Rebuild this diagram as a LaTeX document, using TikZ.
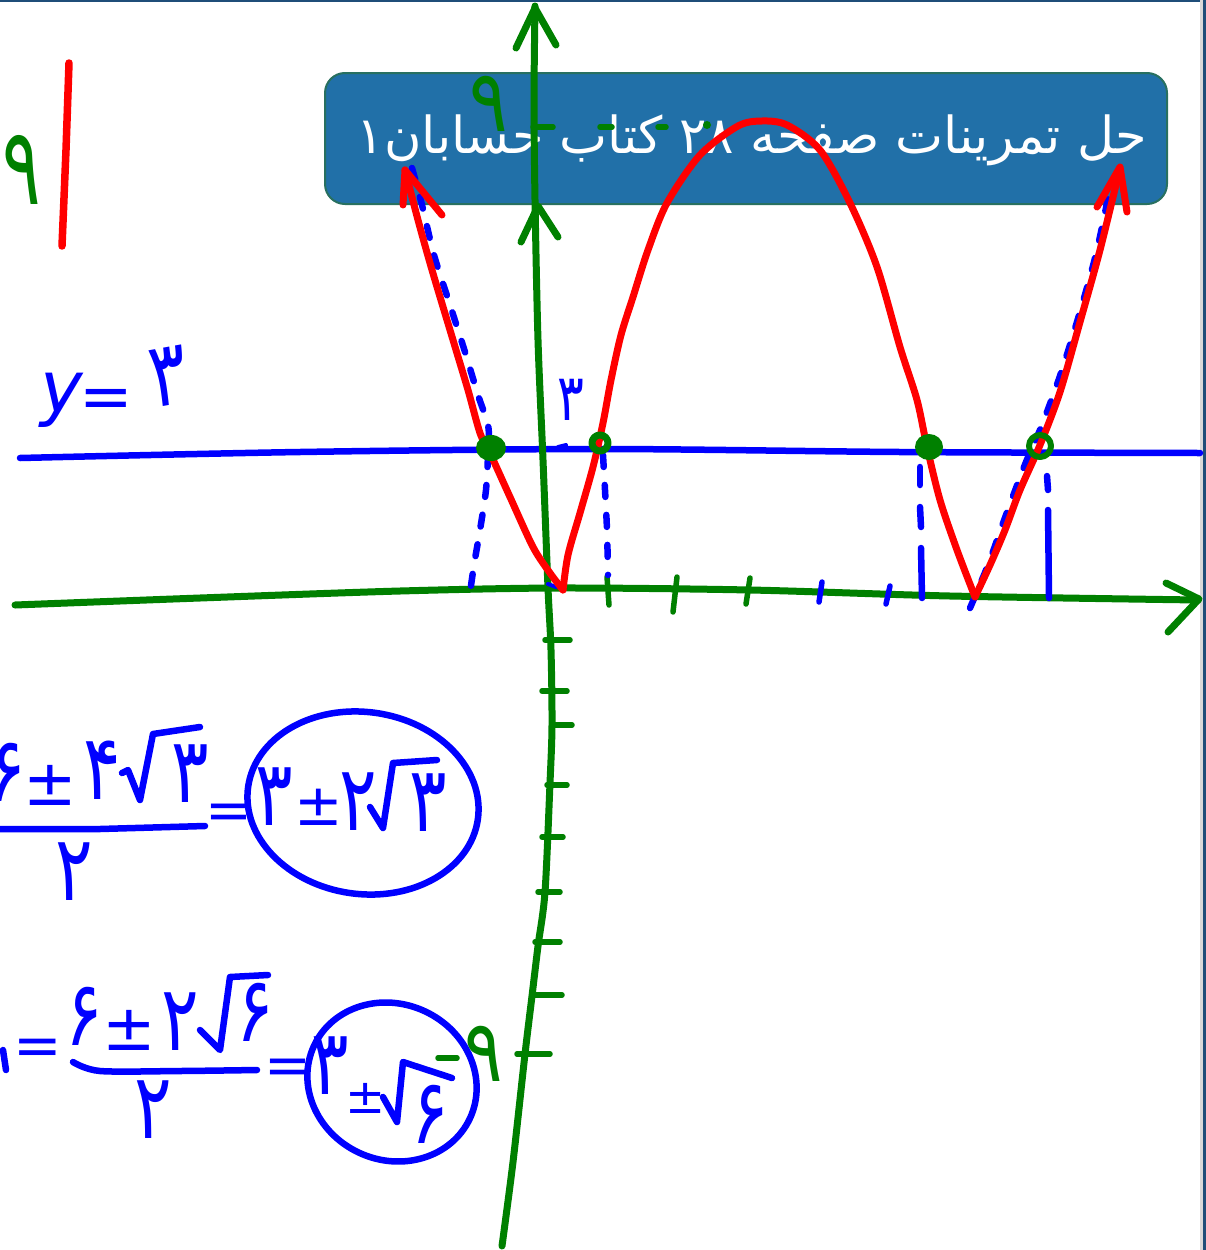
\documentclass[tikz,border=0pt]{standalone}
\usepackage{fontspec}
\newfontfamily\fa[Script=Arabic]{DejaVu Sans}
\newfontfamily\fd{DejaVu Sans}
\TeXXeTstate=1
\definecolor{penred}{RGB}{255,0,0}
\definecolor{pengreen}{RGB}{0,128,0}
\definecolor{penblue}{RGB}{0,0,255}
\definecolor{boxfill}{RGB}{33,112,168}
\definecolor{boxline}{RGB}{40,112,96}
\definecolor{frame}{RGB}{31,78,121}
\begin{document}
\begin{tikzpicture}[x=1pt,y=-1pt,
  redc/.style={draw=penred,line width=7pt,line cap=round,line join=round},
  grn/.style={draw=pengreen,line width=7pt,line cap=round,line join=round},
  blu/.style={draw=penblue,line width=6.5pt,line cap=round,line join=round},
  bdash/.style={blu,dash pattern=on 12pt off 18pt},
  btxt/.style={text=penblue,inner sep=0pt,yscale=1.3,font=\fd\fontsize{70}{70}\selectfont},
  bsym/.style={text=penblue,inner sep=0pt,font=\fd\fontsize{64}{64}\selectfont},
  gtxt/.style={text=pengreen,inner sep=0pt,yscale=1.5,font=\fd\fontsize{72}{72}\selectfont},
  dotf/.style={fill=pengreen,draw=pengreen,line width=2pt}]
\useasboundingbox (0,0) rectangle (1206,1250);
\clip (0,0) rectangle (1206,1250);
\fill[white] (0,0) rectangle (1206,1250);
% frame
\fill[frame] (0,0) rectangle (1206,2);
\fill[black!15] (1200,0) rectangle (1203,1250);
\fill[frame] (1203,0) rectangle (1206,1250);
% title box
\draw[boxline,fill=boxfill,line width=2pt,rounded corners=20pt] (325,73) rectangle (1167,204);
\node[text=white,inner sep=0pt,font=\fa\fontsize{51}{51}\selectfont] (title) at (752,140)
  {\beginR حل تمرینات صفحه \beginL ۲۸\endL{} کتاب حسابان۱\endR};
% red mark top left
\draw[redc,line width=7.5pt] (69,63) -- (66,150) -- (62,246);
\node[gtxt] (nine1) at (22,170) {۹};
% blue y=3 line
\draw[blu] plot[smooth,tension=0.5] coordinates {(20,458) (300,452) (600,449) (900,452) (1200,453)};
\node[bsym,font=\fd\itshape\fontsize{72}{72}\selectfont] (ylab) at (62,400) {y};
\node[bsym] (yeq) at (106,404) {=};
\node[btxt,rotate=8] (ythree) at (168,376) {۳};
\node[btxt,font=\fd\fontsize{50}{50}\selectfont] (three2) at (571,400) {۳};
% x axis
\draw[grn] plot[smooth,tension=0.5] coordinates {(15,605) (200,598) (400,591) (560,588) (750,590) (950,596) (1198,600)};
\draw[grn] (1166,583) -- (1199,599) -- (1168,632);
% x ticks
\draw[grn,line width=5.5pt] (607,577) -- (609,605);
\draw[grn,line width=5.5pt] (677,577) -- (673,612);
\draw[grn,line width=5.5pt] (750,578) -- (746,604);
\draw[blu,line width=5.5pt] (822,582) -- (819,602);
\draw[blu,line width=5.5pt] (890,586) -- (886,604);
% y axis
\draw[grn] plot[smooth,tension=0.5] coordinates {(535,6) (534,100) (535,200) (538,340) (543,460) (548,588) (551,650) (552,725) (550,783) (545,892) (538,946) (532,996) (525,1054) (513,1162) (502,1246)};
\draw[grn] (516,48) -- (535,8) -- (556,45);
\draw[grn] (521,242) -- (538,206) -- (558,237);
\draw[grn,line width=5.5pt] (533,127) -- (553,127);
\node[gtxt,yscale=0.8] (nine2) at (489,104) {۹};
\draw[grn,line width=5.5pt] (600,127) -- (612,127);
\draw[grn,line width=5.5pt] (658,127) -- (666,127);
\fill[pengreen] (707,125) circle (4);
% y ticks
\foreach \a/\b/\c in {545/570/640,542/567/691,553/572/725,547/567/785,542/563/837,538/560/892,535/560/942,532/562/995,517/550/1054}
  \draw[grn,line width=5.5pt] (\a,\c) -- (\b,\c);
% blue dashed guide curves
\draw[bdash] plot[smooth,tension=0.5] coordinates {(412,168) (422,205) (434,255) (450,305) (465,352) (478,395) (488,425) (489,448)};
\draw[bdash] plot[smooth,tension=0.5] coordinates {(488,455) (486,490) (480,530) (474,565) (470,593)};
\draw[bdash] plot[smooth,tension=0.5] coordinates {(603,455) (605,490) (607,530) (608,575)};
\draw[blu] (920,467) -- (920,485);
\draw[blu] (920,507) -- (921,527);
\draw[blu] (921,548) -- (922,598);
\draw[blu] (1047,476) -- (1048,490);
\draw[blu] (1048,510) -- (1049,598);
\draw[bdash] plot[smooth,tension=0.5] coordinates {(970,608) (988,565) (1006,515) (1026,462) (1042,425) (1062,370) (1082,305) (1097,250) (1110,188)};
\draw[blu,line width=4pt] (558,447) -- (566,445);
\draw[blu,line width=4pt] (548,584) -- (556,587);
% red curve
\draw[redc] plot[smooth,tension=0.5] coordinates {(405,170) (418,220) (432,270) (453,340) (468,390) (480,433) (490,453) (510,497) (533,547) (550,573) (563,590)};
\draw[redc] plot[smooth,tension=0.5] coordinates {(563,590) (568,555) (580,513) (593,467) (603,423) (611,380) (621,335) (633,297) (648,250) (667,203) (700,155) (738,126) (762,121) (787,125) (820,150) (850,203) (877,267) (900,347) (917,400) (927,447) (940,500) (957,550) (975,597)};
\draw[redc] plot[smooth,tension=0.5] coordinates {(975,597) (990,565) (1005,530) (1020,490) (1040,445) (1060,392) (1080,322) (1100,250) (1120,168)};
\draw[redc] (403,205) -- (405,170) -- (442,215);
\draw[redc] (1097,207) -- (1120,167) -- (1127,212);
% intersection dots
\draw[dotf] (491,448) ellipse [x radius=14, y radius=12];
\draw[grn,line width=7pt] (600,443) circle (8);
\draw[dotf] (929,447) ellipse [x radius=13, y radius=12];
\draw[grn,line width=6pt] (1040,446) circle (11);
% formula 1
\node[btxt] (f1a) at (7,772) {۶};
\node[bsym] (f1b) at (50,785) {±};
\node[btxt] (f1c) at (102,770) {۴};
\draw[blu] (122,773) -- (128,770) -- (140,800) -- (153,734) -- (200,727);
\node[btxt] (f1d) at (190,774) {۳};
\draw[blu] (0,829) -- (100,829) -- (205,826);
\node[btxt] (f1e) at (74,872) {۲};
\node[bsym,font=\fd\fontsize{56}{56}\selectfont] (f1eq) at (229,817) {=};
\draw[blu,rotate around={-8:(363,803)}] (363,803) ellipse [x radius=116, y radius=91];
\node[btxt] (f1f) at (274,797) {۳};
\node[bsym,font=\fd\fontsize{58}{58}\selectfont] (f1g) at (319,807) {±};
\node[btxt] (f1h) at (358,802) {۲};
\draw[blu] (370,807) -- (383,828) -- (393,763) -- (437,760);
\node[btxt] (f1i) at (428,803) {۳};
% formula 2
\draw[blu] (3,1050) -- (6,1070);
\node[bsym,font=\fd\fontsize{58}{58}\selectfont] (f2eq0) at (38,1052) {=};
\node[btxt] (f2a) at (84,1016) {۶};
\node[bsym] (f2b) at (129,1030) {±};
\node[btxt] (f2c) at (180,1022) {۲};
\draw[blu] (200,1030) -- (220,1050) -- (230,977) -- (268,975);
\node[btxt] (f2d) at (255,1012) {۶};
\draw[blu] plot[smooth,tension=0.5] coordinates {(73,1062) (100,1071) (180,1071) (257,1070)};
\node[btxt] (f2e) at (153,1110) {۲};
\node[bsym,font=\fd\fontsize{56}{56}\selectfont] (f2eq) at (288,1072) {=};
\draw[blu,rotate around={-25:(392,1082)}] (392,1082) ellipse [x radius=86, y radius=78];
\node[btxt] (f2f) at (330,1066) {۳};
\node[bsym,font=\fd\fontsize{48}{48}\selectfont] (f2g) at (366,1098) {±};
\draw[blu] (383,1097) -- (397,1122) -- (403,1062) -- (452,1078);
\node[btxt] (f2h) at (430,1114) {۶};
\draw[grn,line width=5.5pt] (438,1058) -- (457,1058);
\node[gtxt,yscale=0.8] (nine3) at (484,1054) {۹};
\end{tikzpicture}
\end{document}
